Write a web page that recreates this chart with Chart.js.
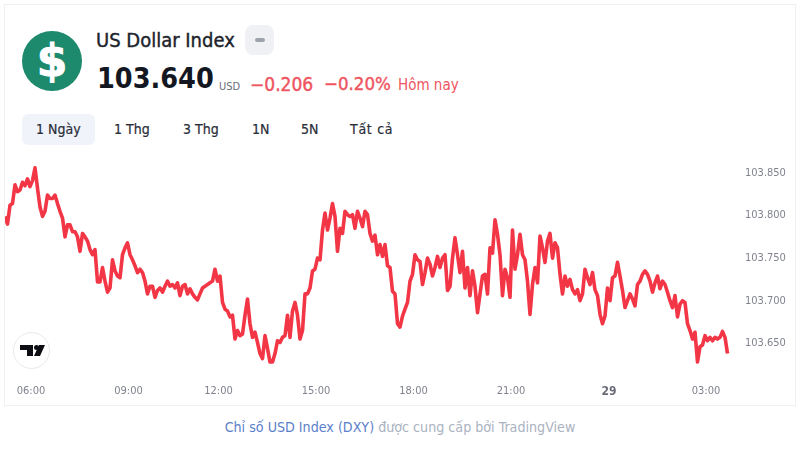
<!DOCTYPE html>
<html>
<head>
    <title>US Dollar Index</title>
    <script src="https://cdn.jsdelivr.net/npm/chart.js"></script>
    <style>
        html, body { margin: 0; padding: 0; background: #fff; }
        body { width: 800px; height: 457px; position: relative; overflow: hidden; font-family: "DejaVu Sans Condensed", "DejaVu Sans", sans-serif; }
        .abs { position: absolute; white-space: nowrap; line-height: 1; }
        #card { position: absolute; left: 4px; top: 4px; width: 790px; height: 400px; border: 1px solid #eff0f3; }
        #chartBox { position: absolute; left: 5px; top: 148px; width: 790px; height: 257px; }
        #logo { left: 22px; top: 31px; width: 60px; height: 60px; border-radius: 50%; background: #1d8a6d; color: #fff; font-size: 44px; font-weight: bold; text-align: center; line-height: 60px; font-family: "DejaVu Sans", sans-serif; -webkit-text-stroke: 1px #fff; }
        #badge { left: 245px; top: 25px; width: 29px; height: 30px; border-radius: 8px; background: #f0f1f4; }
        #badge i { position: absolute; left: 10px; top: 13px; width: 10px; height: 4px; border-radius: 2px; background: #9da1ab; }
        .tab { top: 122px; font-size: 14px; color: #2a2e39; -webkit-text-stroke: 0.2px #2a2e39; }
        #tabOn { left: 22px; top: 114px; width: 73px; height: 31px; border-radius: 6px; background: #f0f3fa; }
        .red { color: #ee5561; }
        #tv { left: 13px; top: 332px; width: 35px; height: 35px; border: 1px solid #e6e8ee; border-radius: 50%; background: #fff; }
    </style>
</head>
<body>
<div id="card"></div>
<div class="abs" id="logo">$</div>
<div class="abs" style="left:96px;top:30px;font-size:20px;color:#20232c;-webkit-text-stroke:0.4px #20232c;">US Dollar Index</div>
<div class="abs" id="badge"><i></i></div>
<div class="abs" style="left:97px;top:65px;font-size:28.5px;font-weight:bold;color:#131722;">103.640</div>
<div class="abs" style="left:219px;top:81px;font-size:11px;color:#6a6d78;">USD</div>
<div class="abs red" style="left:250px;top:75px;font-size:19px;-webkit-text-stroke:0.4px #ee5561;">−0.206</div>
<div class="abs red" style="left:324px;top:75px;font-size:18.5px;-webkit-text-stroke:0.4px #ee5561;">−0.20%</div>
<div class="abs red" style="left:398px;top:78px;font-size:15px;">Hôm nay</div>
<div class="abs" id="tabOn"></div>
<div class="abs tab" style="left:36px;">1 Ngày</div>
<div class="abs tab" style="left:114px;">1 Thg</div>
<div class="abs tab" style="left:183px;">3 Thg</div>
<div class="abs tab" style="left:252px;">1N</div>
<div class="abs tab" style="left:301px;">5N</div>
<div class="abs tab" style="left:350px;letter-spacing:0.7px;">Tất cả</div>
<div id="chartBox"><canvas id="dxyChart"></canvas></div>
<div class="abs" id="tv">
    <svg width="35" height="35" viewBox="0 0 35 35">
        <path d="M6 12h13v11h-6v-6H6z M20 23l5-11h6l-5 11z" fill="#0c0e14"/>
        <circle cx="22.5" cy="14.5" r="2.5" fill="#0c0e14"/>
    </svg>
</div>
<div class="abs" style="left:0;width:800px;top:420px;text-align:center;font-size:14.15px;color:#aab2bf;">
    <span style="color:#5b80c9;">Chỉ số USD Index (DXY)</span> được cung cấp bởi TradingView
</div>
<script>
    const yTicks = [103.65, 103.7, 103.75, 103.8, 103.85];
    const tickIndexes = [10.4, 49.4, 85.4, 124.4, 163.4, 202.4, 241.6, 280.4];
    const tickLabels = ['06:00', '09:00', '12:00', '15:00', '18:00', '21:00', '29', '03:00'];
    const dxyValues = [
        103.799, 103.790, 103.812, 103.814, 103.836, 103.828, 103.830, 103.839, 103.835, 103.843,
        103.834, 103.841, 103.856, 103.832, 103.810, 103.799, 103.805, 103.824, 103.820, 103.820,
        103.824, 103.814, 103.805, 103.797, 103.775, 103.789, 103.789, 103.781, 103.781, 103.775,
        103.758, 103.779, 103.775, 103.770, 103.760, 103.754, 103.760, 103.722, 103.722, 103.739,
        103.723, 103.710, 103.715, 103.748, 103.735, 103.729, 103.727, 103.754, 103.762, 103.768,
        103.754, 103.748, 103.741, 103.733, 103.737, 103.733, 103.723, 103.708, 103.717, 103.717,
        103.704, 103.712, 103.715, 103.710, 103.717, 103.723, 103.717, 103.719, 103.715, 103.721,
        103.706, 103.717, 103.719, 103.708, 103.714, 103.708, 103.704, 103.701, 103.708, 103.715,
        103.717, 103.719, 103.721, 103.723, 103.737, 103.723, 103.729, 103.698, 103.690, 103.688,
        103.681, 103.683, 103.655, 103.665, 103.659, 103.661, 103.683, 103.702, 103.673, 103.657,
        103.663, 103.651, 103.638, 103.632, 103.659, 103.644, 103.628, 103.628, 103.638, 103.653,
        103.651, 103.657, 103.659, 103.683, 103.657, 103.688, 103.698, 103.683, 103.655, 103.665,
        103.708, 103.708, 103.715, 103.735, 103.737, 103.750, 103.748, 103.783, 103.803, 103.783,
        103.797, 103.814, 103.799, 103.758, 103.785, 103.779, 103.805, 103.801, 103.799, 103.801,
        103.785, 103.805, 103.797, 103.787, 103.805, 103.801, 103.779, 103.770, 103.777, 103.754,
        103.766, 103.752, 103.766, 103.741, 103.739, 103.711, 103.708, 103.673, 103.669, 103.682,
        103.690, 103.698, 103.723, 103.731, 103.754, 103.748, 103.746, 103.719, 103.733, 103.750,
        103.743, 103.729, 103.739, 103.752, 103.739, 103.750, 103.754, 103.712, 103.717, 103.750,
        103.774, 103.754, 103.733, 103.758, 103.715, 103.739, 103.706, 103.735, 103.717, 103.686,
        103.708, 103.729, 103.731, 103.708, 103.762, 103.756, 103.795, 103.778, 103.754, 103.706,
        103.737, 103.727, 103.704, 103.783, 103.737, 103.754, 103.778, 103.754, 103.748, 103.723,
        103.684, 103.719, 103.739, 103.721, 103.776, 103.762, 103.745, 103.770, 103.779, 103.750,
        103.768, 103.762, 103.731, 103.708, 103.729, 103.717, 103.725, 103.713, 103.708, 103.713,
        103.700, 103.708, 103.737, 103.727, 103.719, 103.733, 103.713, 103.706, 103.684, 103.673,
        103.682, 103.715, 103.700, 103.727, 103.729, 103.745, 103.729, 103.712, 103.692, 103.700,
        103.708, 103.702, 103.694, 103.719, 103.723, 103.731, 103.735, 103.731, 103.723, 103.710,
        103.721, 103.729, 103.714, 103.723, 103.719, 103.710, 103.700, 103.692, 103.706, 103.681,
        103.696, 103.700, 103.698, 103.673, 103.665, 103.655, 103.663, 103.628, 103.646, 103.648,
        103.659, 103.653, 103.657, 103.653, 103.657, 103.655, 103.657, 103.664, 103.657, 103.638
    ];

    const axisFont = { family: '"DejaVu Sans Condensed", "DejaVu Sans", sans-serif', size: 11 };

    new Chart(document.getElementById('dxyChart').getContext('2d'), {
        type: 'line',
        data: {
            datasets: [{
                data: dxyValues.map((v, i) => ({ x: i, y: v })),
                borderColor: '#f23645',
                borderWidth: 3.6,
                borderJoinStyle: 'round',
                pointRadius: 0,
                tension: 0
            }]
        },
        options: {
            responsive: true,
            maintainAspectRatio: false,
            animation: false,
            layout: { padding: 0 },
            plugins: { legend: { display: false }, tooltip: { enabled: false } },
            scales: {
                x: {
                    type: 'linear',
                    min: 0,
                    max: 295,
                    border: { display: false },
                    grid: { display: false, drawTicks: false },
                    afterBuildTicks: axis => { axis.ticks = tickIndexes.map(value => ({ value })); },
                    afterFit: axis => { axis.height = 30; },
                    ticks: {
                        autoSkip: false,
                        maxRotation: 0,
                        padding: 10,
                        font: ctx => ctx.tick && ctx.tick.value === 241.6 ? { ...axisFont, size: 12, weight: 'bold' } : axisFont,
                        color: ctx => ctx.tick && ctx.tick.value === 241.6 ? '#6a6d78' : '#80838e',
                        callback: value => tickLabels[tickIndexes.indexOf(value)]
                    }
                },
                y: {
                    position: 'right',
                    min: 103.6128,
                    max: 103.8686,
                    border: { display: false },
                    grid: { display: false, drawTicks: false },
                    afterBuildTicks: axis => { axis.ticks = yTicks.map(value => ({ value })); },
                    afterFit: axis => { axis.width = 52.5; },
                    ticks: {
                        padding: 2.5,
                        font: axisFont,
                        color: '#80838e',
                        callback: value => value.toFixed(3)
                    }
                }
            }
        }
    });
</script>
</body>
</html>
